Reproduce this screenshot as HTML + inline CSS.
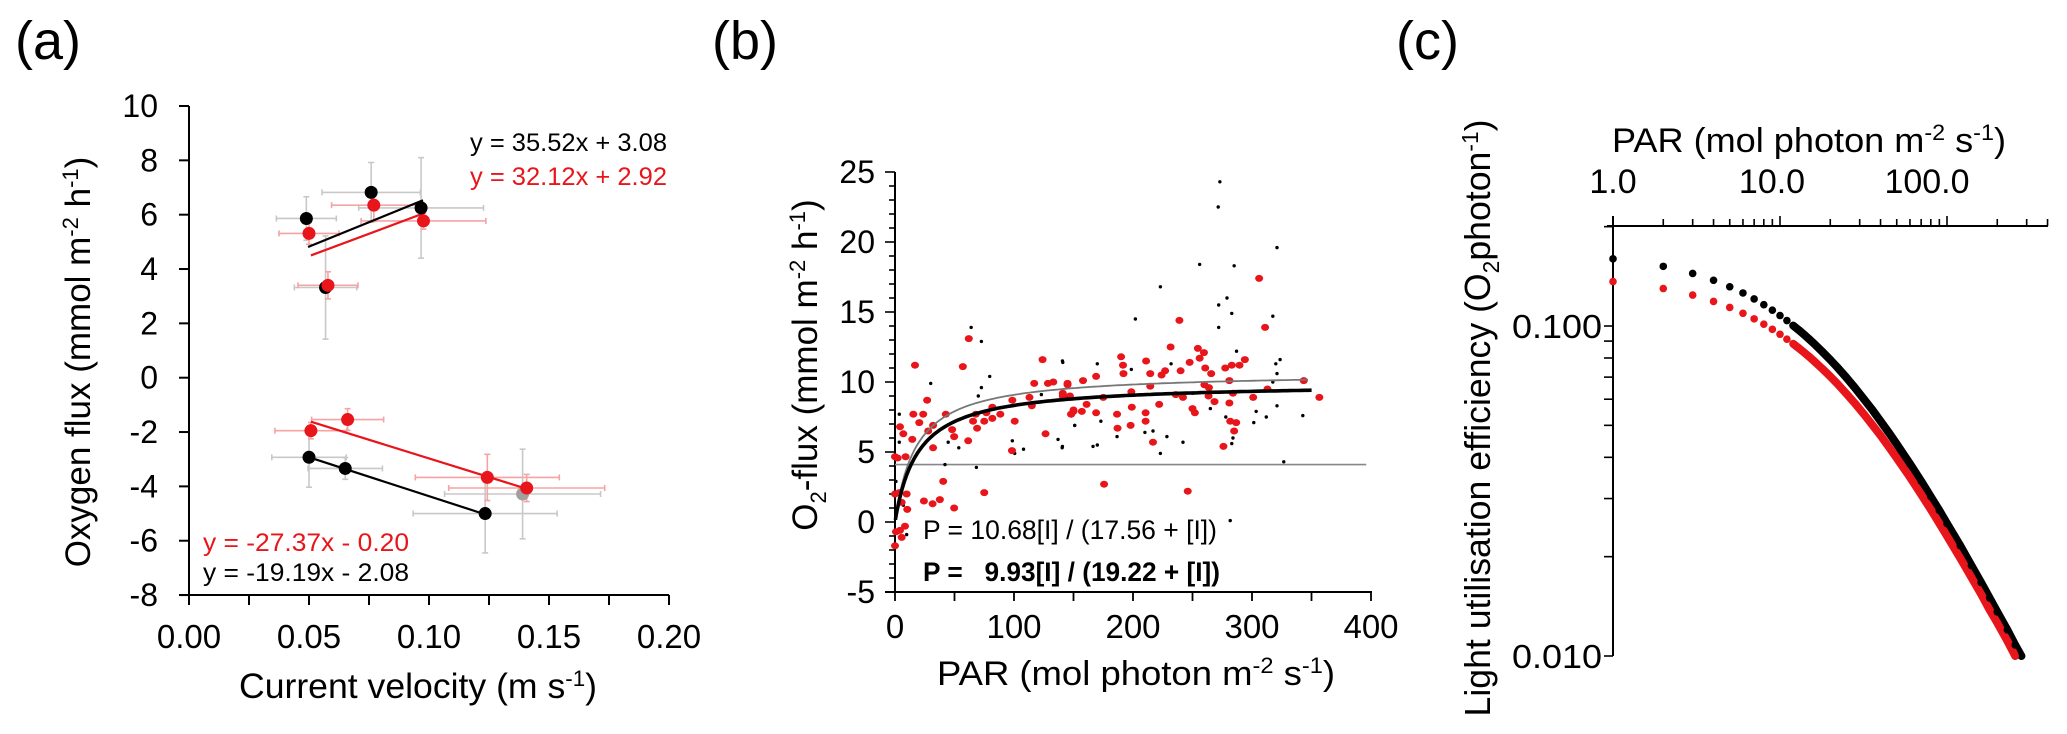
<!DOCTYPE html>
<html><head><meta charset="utf-8"><style>
html,body{margin:0;padding:0;background:#fff;}
svg{display:block;font-family:"Liberation Sans",Arial,sans-serif;}
.pre{white-space:pre;}
</style></head><body>
<svg id="fig" width="2067" height="734" viewBox="0 0 2067 734" xmlns="http://www.w3.org/2000/svg">
<g id="pa"></g>
<g id="pb"></g>
<g id="pc"></g>
</svg>
<script>
// ---------- Panel (a) data ----------
const aBlackX = [0.0489, 0.0759, 0.0967, 0.0569, 0.050, 0.0651, 0.1234];
const aBlackY = [5.86, 6.82, 6.25, 3.32, -2.93, -3.34, -5.0];
const aBlackXerr = [0.0125, 0.0205, 0.026, 0.013, 0.0155, 0.0155, 0.030];
const aBlackYerr = [0.8, 1.1, 1.85, 1.9, 1.1, 0.4, 1.45];
const aGreyX = [0.139];
const aGreyY = [-4.28];
const aGreyXerr = [0.0325];
const aGreyYerr = [1.65];
const aRedX = [0.050, 0.077, 0.0977, 0.0579, 0.0508, 0.0661, 0.1243, 0.1407];
const aRedY = [5.31, 6.35, 5.77, 3.40, -1.95, -1.54, -3.67, -4.06];
const aRedXerr = [0.0125, 0.0176, 0.026, 0.0125, 0.015, 0.015, 0.030, 0.0325];
const aRedYerr = [0.4, 0.6, 0.3, 0.5, 0.3, 0.4, 0.85, 0.5];
const aFitBlackUpX = [0.0496, 0.0975]; const aFitBlackUpY = [4.81, 6.53];
const aFitRedUpX = [0.0508, 0.0984]; const aFitRedUpY = [4.50, 6.07];
const aFitBlackLoX = [0.0525, 0.1234]; const aFitBlackLoY = [-3.0, -5.03];
const aFitRedLoX = [0.0508, 0.1407]; const aFitRedLoY = [-1.62, -4.09];
const aYTicks = [10, 8, 6, 4, 2, 0, -2, -4, -6, -8];
const aXTicks = [0, 0.025, 0.05, 0.075, 0.10, 0.125, 0.15, 0.175, 0.20];
const aXLabels = ["0.00", "0.05", "0.10", "0.15", "0.20"];
const aXLabelVals = [0, 0.05, 0.10, 0.15, 0.20];

// ---------- Panel (b) data ----------
const bRedPAR = [0,2.2,8.9,4.2,7,14.5,16.8,15.4,20.4,23.7,27,27.9,32,32,42.7,48,49.7,61.5,57,62,65.6,67.9,69,75,76.8,81.8,81.8,88.5,98.6,100.6,98.3,75,0,3.6,9.8,5.6,10.3,24.3,31.6,37.7,40.5,49.7,0.8,4.2,8.4,5.6,0,113,115,117,124,128.5,133,126.5,141,145,147,148,150,
 141,145,147,158,169,175,150,148,157,161,169,190,191.6,192,186.6,187,198,199,198.6,210.6,210.6,211,214.5,214.5,216.8,222,224,227,231.6,236,239,240,242,247.6,246,250,252,254.5,256,259.6,260,260.7,263.8,263.5,265.7,268.5,276,277.5,281,281,281.7,283,284,285,286.7,289.5,294,301,306,311,313,343.5,356.6,175.7];
const bRedO2 = [4.66,4.57,4.66,6.8,6.3,5.9,11.2,7.7,7.1,7.7,8.7,6.5,6.9,5.3,7.7,6.6,6.1,5.8,11.1,13.1,7.2,7.7,6.7,7.2,7.8,8.2,7.4,7.7,8.7,7.2,5.1,2.1,2.0,2.1,2.0,1.4,0.9,1.5,1.3,1.6,2.9,1.0,-0.7,-0.6,-0.3,-1.1,-1.7,8.9,8.3,9.9,11.6,9.9,10.0,6.3,9.0,9.8,8.9,7.7,7.9,
 9.2,9.9,9.0,10.1,10.4,8.9,8.0,7.7,7.9,8.4,7.8,11.8,11.2,10.6,7.7,6.7,6.9,8.2,9.3,7.8,7.2,11.5,10.6,9.7,5.7,8.4,10.5,10.8,12.5,9.1,14.4,10.8,8.9,11.4,2.2,8.1,7.8,12.4,11.7,12.1,9.8,11.0,9.6,9.0,10.6,8.6,5.4,11.0,10.1,8.5,7.2,11.2,9.2,6.5,7.1,11.2,11.6,8.9,17.4,13.9,9.5,10.1,8.9,2.7];
const bBlackPAR = [3.6,3.6,30,64,72.6,79.6,72.6,70,53.6,42,44.7,68.4,98.6,100.6,108,123,141,137,140.5,151,0.8,7,9.8,
 273,271.6,321,256,285,223,279,272,283,317.5,272,202,287,140.7,170,198.6,232,323.6,320,321,317.5,250,265,278,151,173,303.5,312,321,342.7,301.5,187,186.6,210,216.8,228.5,242,223,166.4,170,140.7,284,283,326.7,281.7];
const bBlackO2 = [7.7,5.7,9.9,13.9,12.9,10.4,9.6,9.0,5.3,4.1,5.7,3.9,5.8,4.9,5.2,9.1,11.4,5.9,5.3,6.9,2.9,1.2,-0.9,
 24.3,22.5,19.6,18.4,18.3,16.8,16.0,15.5,14.9,14.7,13.9,14.5,12.2,11.5,11.3,10.9,11.3,11.6,11.3,10.6,10.0,9.2,8.1,7.5,6.9,7.2,7.9,7.5,8.3,7.6,7.1,6.7,6.1,6.4,6.5,6.1,5.7,4.9,5.4,5.5,5.4,6.0,5.6,4.3,0.1];
const bFitPmax = [10.68, 9.93];
const bFitK = [17.56, 19.22];
const bFitEnd = [350, 352];
const bHLine = [4.1];
const bYTicks = [-5, 0, 5, 10, 15, 20, 25];
const bXTicks = [0, 50, 100, 150, 200, 250, 300, 350, 400];
const bXLabelVals = [0, 100, 200, 300, 400];

// ---------- Panel (c) data ----------
const cBlackI = [1,2,3,4,5,6,7,8,9,10,11,12,13,14,15,16,18,20,22,25,28,32,36,40,45,50,60,70,80,90,100,120,140,160,180,200,230,256,279];
const cBlackE = [0.1598,0.1516,0.1443,0.1376,0.1315,0.1259,0.1208,0.1160,0.1117,0.1076,0.1039,0.1003,0.0971,0.0940,0.0911,0.0884,0.0834,0.0790,0.0750,0.0697,0.0651,0.0598,0.0554,0.0515,0.0474,0.0439,0.0382,0.0339,0.0304,0.0276,0.0252,0.0216,0.0188,0.0167,0.0150,0.0136,0.0120,0.0108,0.0100];
const cRedI = [1,2,3,4,5,6,7,8,9,10,11,12,13,14,15,16,18,20,22,25,28,32,36,40,45,50,60,70,80,90,100,120,140,160,180,200,230,256];
const cRedE = [0.1364,0.1299,0.1241,0.1187,0.1138,0.1093,0.1051,0.1013,0.0977,0.0944,0.0912,0.0883,0.0856,0.0830,0.0806,0.0783,0.0741,0.0703,0.0669,0.0623,0.0584,0.0538,0.0499,0.0466,0.0429,0.0398,0.0348,0.0309,0.0278,0.0252,0.0231,0.0198,0.0173,0.0154,0.0138,0.0126,0.0111,0.0100];
const cXTicks = [1,2,3,4,5,6,7,8,9,10,20,30,40,50,60,70,80,90,100,200,300,400];
const cXLabels = ["1.0","10.0","100.0"];
const cXLabelVals = [1,10,100];
const cXLabelOffsets = [0,-8,-20];
const cYTicks = [0.01,0.02,0.03,0.04,0.05,0.06,0.07,0.08,0.09,0.1,0.2];
const cYLabels = ["0.010","0.100"];
const cYLabelVals = [0.01,0.1];

const NS = "http://www.w3.org/2000/svg";
function mk(parent, tag, attrs){ const e=document.createElementNS(NS,tag); for(const k in attrs) e.setAttribute(k,attrs[k]); parent.appendChild(e); return e; }

const aX=v=>189+v*2400, aY=v=>106+(10-v)*27.17;
const bX=p=>895+p*1.19, bY=v=>522-v*14;
const cX=i=>1613+167*Math.log10(i), cY=e=>326-330*(Math.log10(e)+1);

// ================= Panel A =================
const pa=document.getElementById('pa');
let t=mk(pa,'text',{x:15,y:59,'font-size':54});
t.textContent='(a)';


let ax=mk(pa,'line',{x1:189,y1:106,x2:189,y2:595,stroke:'#000','stroke-width':2});


ax=mk(pa,'line',{x1:179,y1:595,x2:669,y2:595,stroke:'#000','stroke-width':2});


aYTicks.forEach(v=>{
  const l=mk(pa,'line',{x1:179,y1:aY(v),x2:189,y2:aY(v),stroke:'#000','stroke-width':2});
  
  
  const tx=mk(pa,'text',{x:158,y:aY(v)+11,'font-size':32,'text-anchor':'end'});
  tx.textContent=String(v);
  
  
});
aXTicks.forEach(v=>{
  const l=mk(pa,'line',{x1:aX(v),y1:595,x2:aX(v),y2:605,stroke:'#000','stroke-width':2});
  
  
});
aXLabelVals.forEach((v,i)=>{
  const tx=mk(pa,'text',{x:aX(v),y:648,'font-size':33,'text-anchor':'middle'});
  tx.textContent=aXLabels[i];
  
  
});
t=mk(pa,'text',{x:239,y:698,'font-size':35,textLength:358,lengthAdjust:'spacingAndGlyphs'});
t.innerHTML='Current velocity (m s<tspan dy="-12" font-size="22">-1</tspan><tspan dy="12">)</tspan>';


t=mk(pa,'text',{x:0,y:0,'font-size':35,'text-anchor':'middle',transform:'translate(90,362) rotate(-90)'});
t.innerHTML='Oxygen flux (mmol m<tspan dy="-12" font-size="22">-2</tspan><tspan dy="12"> h</tspan><tspan dy="-12" font-size="22">-1</tspan><tspan dy="12">)</tspan>';



function errbars(g,xs,ys,xe,ye,col,name){
  xs.forEach((x,i)=>{
    const y=ys[i];
    const parts=[[aX(x-xe[i]),aY(y),aX(x+xe[i]),aY(y)],[aX(x),aY(y-ye[i]),aX(x),aY(y+ye[i])],
      [aX(x-xe[i]),aY(y)-3,aX(x-xe[i]),aY(y)+3],[aX(x+xe[i]),aY(y)-3,aX(x+xe[i]),aY(y)+3],
      [aX(x)-3,aY(y-ye[i]),aX(x)+3,aY(y-ye[i])],[aX(x)-3,aY(y+ye[i]),aX(x)+3,aY(y+ye[i])]];
    parts.forEach(p=>{
      const l=mk(g,'line',{x1:p[0],y1:p[1],x2:p[2],y2:p[3],stroke:col,'stroke-width':1.6});
      
      
    });
  });
}
errbars(pa,aBlackX,aBlackY,aBlackXerr,aBlackYerr,'#c8c8c8','a-black-error-bar');
errbars(pa,aGreyX,aGreyY,aGreyXerr,aGreyYerr,'#c8c8c8','a-grey-error-bar');
errbars(pa,aRedX,aRedY,aRedXerr,aRedYerr,'#f5a3a3','a-red-error-bar');
function seg(g,xs,ys,col,name){
  const l=mk(g,'line',{x1:aX(xs[0]),y1:aY(ys[0]),x2:aX(xs[1]),y2:aY(ys[1]),stroke:col,'stroke-width':2.2});
  
  
}
seg(pa,aFitBlackUpX,aFitBlackUpY,'#000','a-fit-black-upper');
seg(pa,aFitRedUpX,aFitRedUpY,'#e8151b','a-fit-red-upper');
seg(pa,aFitBlackLoX,aFitBlackLoY,'#000','a-fit-black-lower');
seg(pa,aFitRedLoX,aFitRedLoY,'#e8151b','a-fit-red-lower');
aGreyX.forEach((x,i)=>{
  const c=mk(pa,'circle',{cx:aX(x),cy:aY(aGreyY[i]),r:6.5,fill:'#a0a0a0'});
  
  
});
aBlackX.forEach((x,i)=>{
  const c=mk(pa,'circle',{cx:aX(x),cy:aY(aBlackY[i]),r:6.5,fill:'#000'});
  
  
});
aRedX.forEach((x,i)=>{
  const c=mk(pa,'circle',{cx:aX(x),cy:aY(aRedY[i]),r:6.5,fill:'#e8151b'});
  
  
});
t=mk(pa,'text',{x:667,y:151,'font-size':25,'text-anchor':'end',textLength:197,lengthAdjust:'spacingAndGlyphs'});
t.textContent='y = 35.52x + 3.08';


t=mk(pa,'text',{x:667,y:185,'font-size':25,'text-anchor':'end',fill:'#e8151b',textLength:197,lengthAdjust:'spacingAndGlyphs'});
t.textContent='y = 32.12x + 2.92';


t=mk(pa,'text',{x:203,y:551,'font-size':25,fill:'#e8151b',textLength:206,lengthAdjust:'spacingAndGlyphs'});
t.textContent='y = -27.37x - 0.20';


t=mk(pa,'text',{x:203,y:581,'font-size':25,textLength:206,lengthAdjust:'spacingAndGlyphs'});
t.textContent='y = -19.19x - 2.08';



// ================= Panel B =================
const pb=document.getElementById('pb');
t=mk(pb,'text',{x:712,y:59,'font-size':54});
t.textContent='(b)';


ax=mk(pb,'line',{x1:895,y1:172,x2:895,y2:592,stroke:'#000','stroke-width':2});


ax=mk(pb,'line',{x1:885,y1:592,x2:1372,y2:592,stroke:'#000','stroke-width':2});


for(let v=-5; v<=25; v++){
  const major = bYTicks.indexOf(v)>=0;
  const l=mk(pb,'line',{x1:major?885:889,y1:bY(v),x2:895,y2:bY(v),stroke:'#000','stroke-width':1.6});
  
  
}
bYTicks.forEach(v=>{
  const tx=mk(pb,'text',{x:875,y:bY(v)+11,'font-size':32,'text-anchor':'end'});
  tx.textContent=String(v);
  
  
});
bXTicks.forEach(v=>{
  const l=mk(pb,'line',{x1:bX(v),y1:592,x2:bX(v),y2:601,stroke:'#000','stroke-width':1.8});
  
  
});
bXLabelVals.forEach(v=>{
  const tx=mk(pb,'text',{x:bX(v),y:638,'font-size':33,'text-anchor':'middle'});
  tx.textContent=String(v);
  
  
});
t=mk(pb,'text',{x:937,y:685,'font-size':34,textLength:398,lengthAdjust:'spacingAndGlyphs'});
t.innerHTML='PAR (mol photon m<tspan dy="-12" font-size="22">-2</tspan><tspan dy="12"> s</tspan><tspan dy="-12" font-size="22">-1</tspan><tspan dy="12">)</tspan>';


t=mk(pb,'text',{x:0,y:0,'font-size':35,'text-anchor':'middle',transform:'translate(817,365) rotate(-90)'});
t.innerHTML='O<tspan dy="9" font-size="22">2</tspan><tspan dy="-9">-flux (mmol m</tspan><tspan dy="-12" font-size="22">-2</tspan><tspan dy="12"> h</tspan><tspan dy="-12" font-size="22">-1</tspan><tspan dy="12">)</tspan>';


const hl=mk(pb,'line',{x1:bX(0),y1:bY(bHLine[0]),x2:bX(396),y2:bY(bHLine[0]),stroke:'#888','stroke-width':1.6});


bBlackPAR.forEach((p,i)=>{
  const c=mk(pb,'circle',{cx:bX(p),cy:bY(bBlackO2[i]),r:1.7,fill:'#000'});
  
  
});
bRedPAR.forEach((p,i)=>{
  const c=mk(pb,'ellipse',{cx:bX(p),cy:bY(bRedO2[i]),rx:4,ry:3.5,fill:'#e8151b'});
  
  
});
function fitPath(k){
  let d='';
  for(let I=0.3; I<=bFitEnd[k]; I+= (I<20?0.3:3)){
    const P=bFitPmax[k]*I/(bFitK[k]+I);
    d+=(d?'L':'M')+bX(I).toFixed(1)+','+bY(P).toFixed(1);
  }
  return d;
}
let fp=mk(pb,'path',{d:fitPath(0),fill:'none',stroke:'#777','stroke-width':1.8});


fp=mk(pb,'path',{d:fitPath(1),fill:'none',stroke:'#000','stroke-width':3.6});


t=mk(pb,'text',{x:923,y:539,'font-size':27,textLength:294,lengthAdjust:'spacingAndGlyphs'});
t.textContent='P = 10.68[I] / (17.56 + [I])';


t=mk(pb,'text',{x:923,y:581,'font-size':27,'font-weight':'bold',class:'pre',textLength:297,lengthAdjust:'spacingAndGlyphs'});
t.textContent='P =   9.93[I] / (19.22 + [I])';



// ================= Panel C =================
const pc=document.getElementById('pc');
t=mk(pc,'text',{x:1396,y:59,'font-size':54});
t.textContent='(c)';


ax=mk(pc,'line',{x1:1607,y1:226,x2:2048,y2:226,stroke:'#000','stroke-width':2});


ax=mk(pc,'line',{x1:1613,y1:216,x2:1613,y2:656,stroke:'#000','stroke-width':2});


cXTicks.forEach(v=>{
  const major=cXLabelVals.indexOf(v)>=0;
  const l=mk(pc,'line',{x1:cX(v),y1:226,x2:cX(v),y2:major?216:219,stroke:'#000','stroke-width':1.6});
  
  
});
cXLabelVals.forEach((v,i)=>{
  const tx=mk(pc,'text',{x:cX(v)+cXLabelOffsets[i],y:193,'font-size':34,'text-anchor':'middle'});
  tx.textContent=cXLabels[i];
  
  
});
cYTicks.forEach(v=>{
  const l=mk(pc,'line',{x1:1604,y1:cY(v),x2:1613,y2:cY(v),stroke:'#000','stroke-width':1.6});
  
  
});
cYLabelVals.forEach((v,i)=>{
  const tx=mk(pc,'text',{x:1602,y:cY(v)+12,'font-size':33,'text-anchor':'end',textLength:90,lengthAdjust:'spacingAndGlyphs'});
  tx.textContent=cYLabels[i];
  
  
});
t=mk(pc,'text',{x:1612,y:152,'font-size':34,textLength:394,lengthAdjust:'spacingAndGlyphs'});
t.innerHTML='PAR (mol photon m<tspan dy="-12" font-size="22">-2</tspan><tspan dy="12"> s</tspan><tspan dy="-12" font-size="22">-1</tspan><tspan dy="12">)</tspan>';


t=mk(pc,'text',{x:0,y:0,'font-size':36,'text-anchor':'middle',transform:'translate(1490,418) rotate(-90)',textLength:597,lengthAdjust:'spacingAndGlyphs'});
t.innerHTML='Light utilisation efficiency (O<tspan dy="9" font-size="23">2</tspan><tspan dy="-9">photon</tspan><tspan dy="-12" font-size="23">-1</tspan><tspan dy="12">)</tspan>';


function cLine(Is,Es,col,name){
  let d='';
  Is.forEach((I,i)=>{ if(I>=12) d+=(d?'L':'M')+cX(I).toFixed(1)+','+cY(Es[i]).toFixed(1); });
  const p=mk(pc,'path',{d:d,fill:'none',stroke:col,'stroke-width':8,'stroke-linecap':'round','stroke-linejoin':'round'});
  
  
}
function cDots(Is,Es,col,name){
  Is.forEach((I,i)=>{
    const c=mk(pc,'circle',{cx:cX(I),cy:cY(Es[i]),r:3.8,fill:col});
    
    
  });
}
cLine(cBlackI,cBlackE,'#000','c-black-curve');
cLine(cRedI,cRedE,'#e8151b','c-red-curve');
cDots(cBlackI,cBlackE,'#000','c-black-point');
cDots(cRedI,cRedE,'#e8151b','c-red-point');
</script>
</body></html>
